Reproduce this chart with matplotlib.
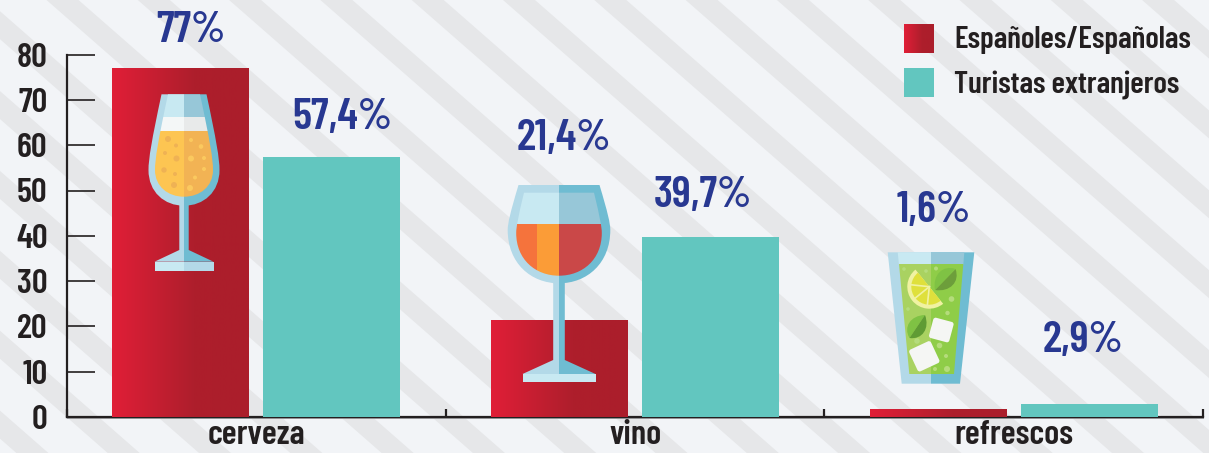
import matplotlib
matplotlib.use('Agg')
from matplotlib import pyplot as plt
from matplotlib.colors import LinearSegmentedColormap
from matplotlib.patches import Rectangle, Circle, Wedge, Polygon, PathPatch, FancyBboxPatch
from matplotlib.path import Path
from matplotlib.transforms import Affine2D
import numpy as np

# data
categories = ['cerveza', 'vino', 'refrescos']
espanoles = [77, 21.4, 1.6]
turistas = [57.4, 39.7, 2.9]
label_esp = ['77%', '21,4%', '1,6%']
label_tur = ['57,4%', '39,7%', '2,9%']
y_ticks = [0, 10, 20, 30, 40, 50, 60, 70, 80]
legend_names = ['Españoles/Españolas', 'Turistas extranjeros']

W, H = 1209, 453
DARK = '#231f20'
BLUE = '#283891'
TEAL = '#62c6bf'
GLASS_L, GLASS_R = '#b3d9e8', '#6fbcd2'
EMPTY_L, EMPTY_R = '#c8e9f2', '#97c7d8'
red_grad = LinearSegmentedColormap.from_list('red', [(0, '#e01f37'), (0.6, '#ae1e2c'), (1, '#ab1e2b')])
font = dict(family=['Barlow Condensed', 'Roboto'], weight=600)

fig = plt.figure(figsize=(W / 100, H / 100), dpi=100, facecolor='#f2f4f7')

# full figure axes that work in pixels, y going down
def pixel_axes(zorder):
    a = fig.add_axes([0, 0, 1, 1], zorder=zorder)
    a.set_xlim(0, W)
    a.set_ylim(H, 0)
    a.axis('off')
    return a

# background stripes
bg = pixel_axes(-1)
slope = 0.875
for x0 in np.arange(411.7 - 91.3 * 10, W + 92, 91.3):
    bg.add_patch(Polygon([(x0, 0), (x0 + 32, 0), (x0 + 32 + H / slope, H), (x0 + H / slope, H)],
                         fc='#e6e7e9', ec='none'))

# main chart
ax = fig.add_axes([67 / W, 1 - 417 / H, (1203 - 67) / W, (417 - 54.6) / H], zorder=1)
ax.patch.set_alpha(0)
x = np.arange(3) + 0.5
bw = 137 / 378.7
off = 0.1994
bars = ax.bar(x - off, espanoles, bw, color='#ae1e2c', zorder=5)
ax.bar(x + off, turistas, bw, color=TEAL, zorder=5)
for b in bars:
    im = ax.imshow(np.linspace(0, 1, 200).reshape(1, -1), cmap=red_grad, aspect='auto', zorder=6,
                   extent=[b.get_x(), b.get_x() + b.get_width(), 0, b.get_height()])
ax.set_xlim(0, 3)
ax.set_ylim(0, 80)
for s in ['top', 'right']:
    ax.spines[s].set_visible(False)
for s in ['left', 'bottom']:
    ax.spines[s].set_linewidth(1.6)
    ax.spines[s].set_color(DARK)
ax.set_yticks(y_ticks)
ax.set_yticklabels([str(v) for v in y_ticks], fontsize=25, color=DARK, **font)
ax.tick_params(axis='y', direction='in', length=20, width=1.2, color=DARK, pad=14)
ax.set_xticks([0, 1, 2, 3])
ax.set_xticklabels([])
ax.tick_params(axis='x', which='major', direction='in', length=6, width=1.6, color=DARK)
ax.set_xticks(x, minor=True)
ax.set_xticklabels(categories, minor=True, fontsize=25, color=DARK, **font)
ax.tick_params(axis='x', which='minor', length=0, pad=2)

# overlay with labels, legend and the glasses
ov = pixel_axes(2)
ov.plot([67, 1203], [418.4, 418.4], color='#8f8f92', lw=0.7)

for txt, px, py in zip(label_esp + label_tur,
                       [191, 564, 934, 342, 703, 1083],
                       [41.7, 150, 222, 129, 207, 351.7]):
    ov.text(px, py, txt, color=BLUE, fontsize=32, ha='center', va='baseline', **font)

ov.imshow(np.linspace(0, 1, 100).reshape(1, -1), cmap=red_grad, aspect='auto', extent=[904, 934, 53, 24])
ov.add_patch(Rectangle((904, 68), 30, 29, fc=TEAL, ec='none'))
ov.set_xlim(0, W)
ov.set_ylim(H, 0)
ov.text(954, 48, legend_names[0], color=DARK, fontsize=22.5, va='baseline', **font)
ov.text(954, 93, legend_names[1], color=DARK, fontsize=22.5, va='baseline', **font)

# icon helpers
def shape(cmds):
    verts, codes = [], []
    for c, pts in cmds:
        verts += pts
        codes += [c] * len(pts)
    return Path(verts, codes)

def goblet(cx, top, hw_top, hw_wide, y_wide, bottom):
    # mirrored bowl outline
    M, L, C = Path.MOVETO, Path.LINETO, Path.CURVE4
    return shape([
        (M, [(cx - hw_top, top)]),
        (L, [(cx + hw_top, top)]),
        (C, [(cx + hw_top + (hw_wide - hw_top) * 0.75, top + (y_wide - top) * 0.6),
             (cx + hw_wide, y_wide - (y_wide - top) * 0.15), (cx + hw_wide, y_wide)]),
        (C, [(cx + hw_wide, y_wide + (bottom - y_wide) * 0.62), (cx + hw_wide * 0.55, bottom), (cx, bottom)]),
        (C, [(cx - hw_wide * 0.55, bottom), (cx - hw_wide, y_wide + (bottom - y_wide) * 0.62), (cx - hw_wide, y_wide)]),
        (C, [(cx - hw_wide, y_wide - (y_wide - top) * 0.15),
             (cx - hw_top - (hw_wide - hw_top) * 0.75, top + (y_wide - top) * 0.6), (cx - hw_top, top)]),
    ])

def band(x0, x1, y0, y1, color, clip=None):
    r = Rectangle((x0, y0), x1 - x0, y1 - y0, fc=color, ec='none', zorder=3)
    ov.add_patch(r)
    if clip is not None:
        r.set_clip_path(clip)
    return r

def two_tone(path, cx, left, right):
    # hidden patch gives the clip shape, two rects give the halves
    p = PathPatch(path, fc='none', ec='none')
    ov.add_patch(p)
    x0, y0 = path.vertices.min(axis=0)
    x1, y1 = path.vertices.max(axis=0)
    band(x0 - 1, cx, y0 - 1, y1 + 1, left, p)
    band(cx, x1 + 1, y0 - 1, y1 + 1, right, p)
    return p

def stem_foot(cx, y0, y1, y2, y3, hs, hf, foot_l, foot_r):
    ov.add_patch(Polygon([(cx - hs, y0), (cx, y0), (cx, y2), (cx - hf, y2), (cx - hs, y1)], fc=GLASS_L, ec='none', zorder=3))
    ov.add_patch(Polygon([(cx, y0), (cx + hs, y0), (cx + hs, y1), (cx + hf, y2), (cx, y2)], fc=GLASS_R, ec='none', zorder=3))
    band(cx - hf, cx, y2, y3, foot_l)
    band(cx, cx + hf, y2, y3, foot_r)

def dots(items, color, alpha=1.0):
    for px, py, r in items:
        ov.add_patch(Circle((px, py), r, fc=color, ec='none', alpha=alpha, zorder=4))

# beer glass
cx = 184
two_tone(goblet(cx, 94.3, 22.5, 35.5, 170, 205.7), cx, GLASS_L, GLASS_R)
stem_foot(cx, 203, 250, 261.7, 271, 4.7, 29.5, EMPTY_L, GLASS_L)
inner = PathPatch(goblet(cx, 94.3, 16, 29, 170, 196.7), fc='none', ec='none')
ov.add_patch(inner)
band(150, cx, 90, 117, EMPTY_L, inner)
band(cx, 220, 90, 117, EMPTY_R, inner)
band(150, cx, 117, 131, '#f4f7f7', inner)
band(cx, 220, 117, 131, '#e8eaea', inner)
band(150, cx, 131, 200, '#fdc552', inner)
band(cx, 220, 131, 200, '#f2b354', inner)
dots([(168, 139, 3), (176, 145.5, 2), (165, 153, 2), (176.5, 158.5, 3), (164, 170, 2.7), (175, 174, 2), (174, 185, 3)], '#efb254')
dots([(191, 140, 2), (201, 146.5, 2.3), (191, 158.5, 3), (204, 158, 2), (204, 169, 2), (195, 177.5, 2), (190, 188, 3)], '#fbc95e')

# wine glass
cx = 559
two_tone(goblet(cx, 185, 40.5, 51.3, 230, 283.3), cx, GLASS_L, GLASS_R)
stem_foot(cx, 281, 360, 374, 382, 5.8, 36.5, EMPTY_L, EMPTY_L)
inner = PathPatch(goblet(cx, 192.7, 35, 42.8, 233, 275.7), fc='none', ec='none')
ov.add_patch(inner)
band(510, cx, 190, 224, EMPTY_L, inner)
band(cx, 610, 190, 224, EMPTY_R, inner)
band(510, 536.7, 224, 280, '#f5733c', inner)
band(536.7, cx, 224, 280, '#fb9c37', inner)
band(cx, 610, 224, 280, '#ca4848', inner)

# mojito glass
cx = 931
M, L = Path.MOVETO, Path.LINETO
two_tone(shape([(M, [(887.7, 252.3)]), (L, [(974.3, 252.3), (960, 383.7), (901.7, 383.7), (887.7, 252.3)])]),
         cx, GLASS_L, GLASS_R)
top_in = PathPatch(shape([(M, [(897.7, 252.3)]), (L, [(964.3, 252.3), (963.3, 265), (899, 265), (897.7, 252.3)])]),
                   fc='none', ec='none')
ov.add_patch(top_in)
band(890, cx, 250, 266, EMPTY_L, top_in)
band(cx, 970, 250, 266, EMPTY_R, top_in)
two_tone(shape([(M, [(899, 264)]), (L, [(963.3, 264), (954, 374), (909.3, 374), (899, 264)])]),
         cx, '#a9d261', '#8fcd48')
dots([(904, 269, 1.8), (926, 271, 1.8), (936, 268.5, 2), (951.5, 299, 2.8), (947.5, 313, 2.2), (908, 309, 1.8),
      (917, 341, 2.8), (939.5, 345.5, 2.8), (946, 356, 2), (935, 369, 2), (947, 369, 3)], '#b5dc7c')

# lime slice
ov.add_patch(Wedge((929.3, 286.7), 22, 51, 231, fc='#f0f2a2', ec='none', zorder=4))
ov.add_patch(Wedge((929.3, 286.7), 18, 51, 231, fc='#dfe03c', ec='none', zorder=4))
for ang in [96, 141, 186]:
    a = np.radians(ang)
    ov.plot([929.3, 929.3 + 19 * np.cos(a)], [286.7, 286.7 + 19 * np.sin(a)], color='#f0f2a2', lw=1.2, zorder=4)

# mint leaves
C3 = Path.CURVE4
def leaf(p0, p1, c_l, c_r):
    p0, p1 = np.array(p0, float), np.array(p1, float)
    d = p1 - p0
    n = np.array([-d[1], d[0]]) * 0.42
    a0 = p0 + d * 0.3
    a1 = p0 + d * 0.8
    ov.add_patch(PathPatch(shape([(M, [tuple(p0)]), (C3, [tuple(a0 + n), tuple(a1 + n), tuple(p1)]), (L, [tuple(p0)])]),
                           fc=c_l, ec='none', zorder=4))
    ov.add_patch(PathPatch(shape([(M, [tuple(p0)]), (C3, [tuple(a0 - n), tuple(a1 - n), tuple(p1)]), (L, [tuple(p0)])]),
                           fc=c_r, ec='none', zorder=4))

leaf((935, 290), (955.5, 269), '#6d9e3b', '#7fc244')
leaf((925, 315), (909.5, 338), '#7fc244', '#5f9b34')

# ice cubes
for (ix, iy, half, rot) in [(941.3, 330, 10.5, 15), (924.3, 356.3, 12, -25)]:
    t = Affine2D().rotate_deg_around(ix, iy, rot) + ov.transData
    ov.add_patch(FancyBboxPatch((ix - half, iy - half), 2 * half, 2 * half, boxstyle='round,pad=0,rounding_size=2.5',
                                fc='#f5f6f4', ec='none', zorder=4, transform=t))

fig.savefig('out.png', dpi=100, facecolor=fig.get_facecolor())
